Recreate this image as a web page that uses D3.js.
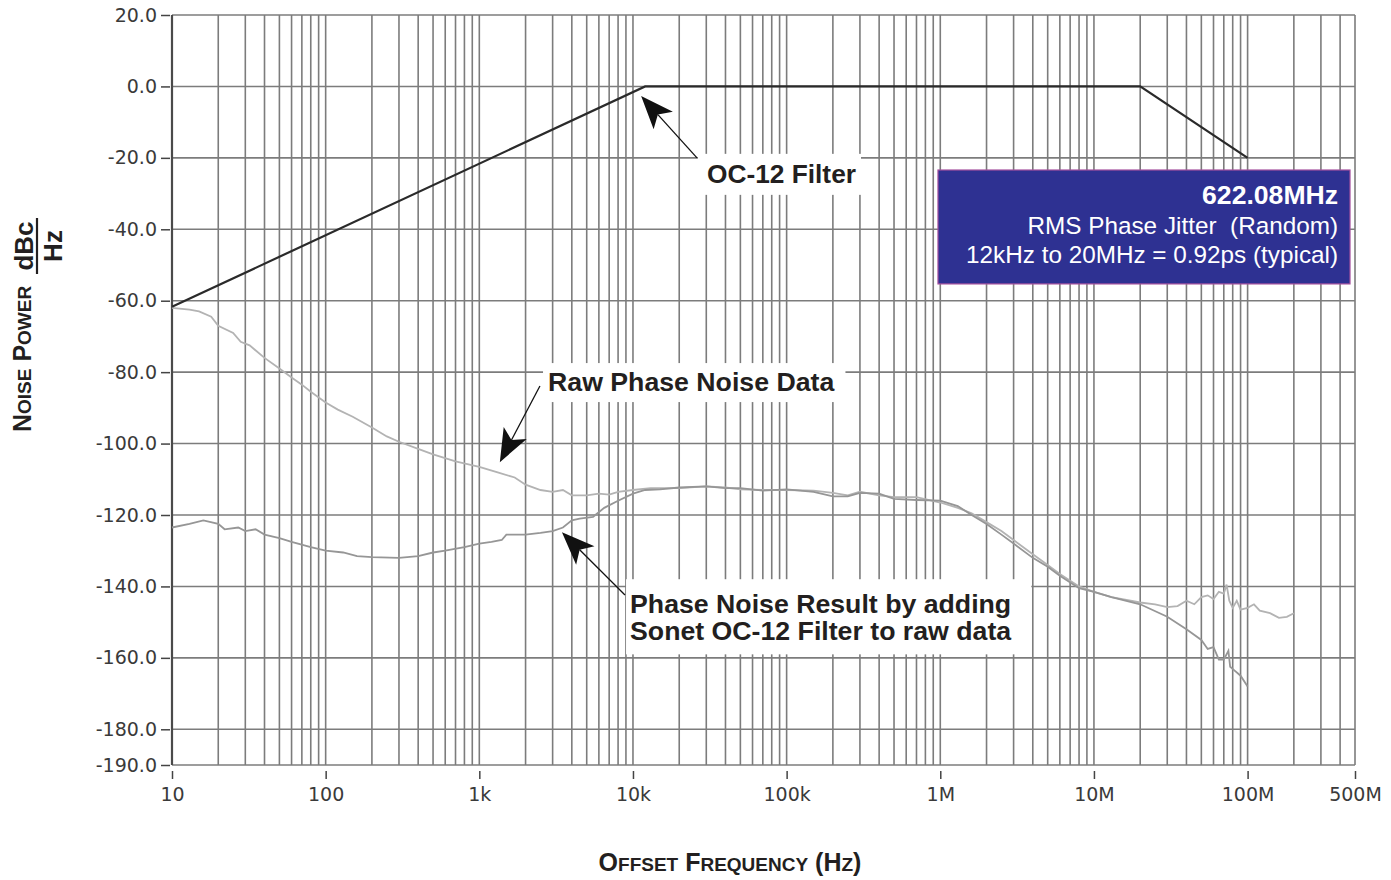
<!DOCTYPE html>
<html lang="en">
    <head>
        <meta charset="utf-8">
        <title>Phase Noise</title>
        <script src="https://d3js.org/d3.v7.min.js"></script>
        <style type="text/css">
            body { margin: 0; background: #fff; }
            svg text { white-space: pre; }
        </style>
    </head>
    <body>
        <script type="text/javascript">

            const w = 1391;
            const h = 880;

            // axis ticks
            const yTicks = [20, 0, -20, -40, -60, -80, -100, -120, -140, -160, -180, -190];
            const xTicks = [10, 100, 1e3, 1e4, 1e5, 1e6, 1e7, 1e8, 5e8];
            const xTickLabels = ["10", "100", "1k", "10k", "100k", "1M", "10M", "100M", "500M"];

            // OC-12 filter mask
            const filterFreq = [10, 12000, 20e6, 100e6];
            const filterDb = [-61.7, 0, 0, -20];

            // raw phase noise data
            const rawFreq = [10, 13, 15, 18, 20, 25, 28, 32, 40, 50, 60, 70, 80, 100, 120, 150, 200, 250, 300, 400,
                500, 700, 1000, 1300, 1700, 2000, 2500, 3000, 3500, 4000, 5000, 6000, 7000, 8000, 10000, 13000,
                20000, 30000, 40000, 50000, 70000, 100000, 150000, 200000, 250000, 300000, 400000, 500000, 700000,
                1e6, 1.3e6, 1.6e6, 2e6, 2.5e6, 3e6, 4e6, 5e6, 6e6, 8e6, 10e6, 13e6, 20e6, 25e6, 30e6, 35e6, 40e6,
                45e6, 50e6, 55e6, 60e6, 65e6, 70e6, 73e6, 76e6, 80e6, 85e6, 90e6, 100e6, 110e6, 120e6, 140e6,
                160e6, 180e6, 200e6];
            const rawDb = [-62, -62.5, -63, -64.5, -67, -69, -71.5, -72.5, -76, -79, -81.5, -83.5, -85.5, -88.5, -90.5, -92.5, -95.5, -98, -99.5, -101.5,
                -103, -105, -106.5, -108, -109.5, -111.5, -113, -113.5, -113, -114.5, -114.5, -114, -114.3, -113.5, -113, -112.5,
                -112.5, -112, -112.3, -112.8, -113, -113, -113.2, -113.8, -114.5, -113.5, -114.5, -115, -115,
                -116.5, -118, -119.5, -122, -124.5, -127, -131, -134, -136.5, -140, -141.5, -143, -144.5, -145, -145.8, -145.5, -144,
                -145, -143, -142.5, -143.5, -141.5, -142, -139.5, -144, -146, -144, -146.5, -146, -145, -146.8, -147.5,
                -148.8, -148.5, -147.5];

            // raw data with the filter applied
            const resFreq = [10, 13, 16, 20, 22, 27, 30, 35, 40, 50, 60, 80, 100, 130, 160, 200, 300, 400, 500, 600,
                800, 1000, 1200, 1400, 1500, 2000, 2500, 3000, 3500, 4000, 4500, 5500, 6500, 8000, 10000, 12000,
                15000, 20000, 30000, 40000, 50000, 70000, 100000, 150000, 200000, 250000, 300000, 400000, 500000,
                700000, 1e6, 1.3e6, 1.6e6, 2e6, 2.5e6, 3e6, 4e6, 5e6, 6e6, 8e6, 10e6, 13e6, 20e6, 30e6, 40e6,
                50e6, 55e6, 60e6, 65e6, 70e6, 75e6, 77e6, 82e6, 90e6, 100e6];
            const resDb = [-123.5, -122.5, -121.5, -122.5, -124, -123.5, -124.5, -124, -125.5, -126.5, -127.5, -129, -130, -130.5, -131.5, -131.8, -132, -131.5, -130.5, -130,
                -129, -128, -127.5, -127, -125.5, -125.5, -125, -124.5, -123.5, -121.5, -121, -120.5, -118, -116, -114, -113,
                -112.8, -112.3, -112, -112.5, -112.5, -113.2, -112.8, -113.5, -114.8, -114.8, -113.8, -114, -115.5,
                -115.8, -116, -117.5, -120, -122.5, -125.5, -128, -132, -134.5, -137, -140.5, -141.5, -143, -145, -148.5, -152,
                -155, -157.5, -157, -160.5, -160.5, -158, -162.5, -163.5, -165, -168];

            const xScale = d3.scaleLog()
                             .domain([10, 5e8])
                             .range([172, 1355]);

            const yScale = d3.scaleLinear()
                             .domain([-190, 20])
                             .range([765, 15]);

            const svg = d3.select("body")
                          .append("svg")
                          .attr("width", w)
                          .attr("height", h)
                          .style("font-family", "'Liberation Sans', Arial, sans-serif");

            // grid
            const vGrid = [];
            [10, 100, 1e3, 1e4, 1e5, 1e6, 1e7].forEach(d => {
                for (let k = 1; k <= 9; k++) vGrid.push(d * k);
            });
            [1e8, 2e8, 3e8, 4e8, 5e8].forEach(d => vGrid.push(d));

            svg.append("g")
               .selectAll("line")
               .data(vGrid)
               .enter()
               .append("line")
               .attr("x1", d => xScale(d))
               .attr("x2", d => xScale(d))
               .attr("y1", yScale(20))
               .attr("y2", yScale(-190))
               .attr("stroke", "#7c7c7c")
               .attr("stroke-width", 1.6);

            svg.append("g")
               .selectAll("line")
               .data(yTicks)
               .enter()
               .append("line")
               .attr("x1", xScale(10))
               .attr("x2", xScale(5e8))
               .attr("y1", d => yScale(d))
               .attr("y2", d => yScale(d))
               .attr("stroke", "#7c7c7c")
               .attr("stroke-width", 1.6);

            svg.append("line")
               .attr("x1", xScale(10)).attr("x2", xScale(10))
               .attr("y1", yScale(20)).attr("y2", yScale(-190))
               .attr("stroke", "#4a4a4a")
               .attr("stroke-width", 2.2);

            // axes
            const leftAxis = d3.axisLeft(yScale)
                               .tickValues(yTicks)
                               .tickFormat(d => d.toFixed(1))
                               .tickSize(9)
                               .tickSizeOuter(0)
                               .tickPadding(4);

            const gy = svg.append("g")
                          .attr("transform", "translate(170,0)")
                          .call(leftAxis);
            gy.select(".domain").remove();
            gy.selectAll("line").attr("stroke", "#444").attr("stroke-width", 1.5);
            gy.selectAll("text")
              .attr("fill", "#3a3a3a")
              .style("font-family", "'DejaVu Sans', sans-serif")
              .style("font-size", "19px");

            const bottomAxis = d3.axisBottom(xScale)
                                 .tickValues(xTicks)
                                 .tickFormat((d, i) => xTickLabels[i])
                                 .tickSize(8)
                                 .tickSizeOuter(0)
                                 .tickPadding(9);

            const gx = svg.append("g")
                          .attr("transform", "translate(0,771)")
                          .call(bottomAxis);
            gx.select(".domain").remove();
            gx.selectAll("line").attr("stroke", "#444").attr("stroke-width", 1.5);
            gx.selectAll("text")
              .attr("fill", "#3a3a3a")
              .style("font-family", "'DejaVu Sans', sans-serif")
              .style("font-size", "19px");

            // series
            const line = d3.line()
                           .x(d => xScale(d[0]))
                           .y(d => yScale(d[1]));

            svg.append("path")
               .datum(rawFreq.map((f, i) => [f, rawDb[i]]))
               .attr("d", line)
               .attr("fill", "none")
               .attr("stroke", "#b3b3b3")
               .attr("stroke-width", 1.8);

            svg.append("path")
               .datum(resFreq.map((f, i) => [f, resDb[i]]))
               .attr("d", line)
               .attr("fill", "none")
               .attr("stroke", "#969696")
               .attr("stroke-width", 1.8);

            svg.append("path")
               .datum(filterFreq.map((f, i) => [f, filterDb[i]]))
               .attr("d", line)
               .attr("fill", "none")
               .attr("stroke", "#2a2a2a")
               .attr("stroke-width", 2.2);

            // annotations: label boxes + arrows (positions in data units)
            function labelBox(lines, fx, dbs, size, pad) {
                const g = svg.append("g");
                const rect = g.append("rect").attr("fill", "#fff");
                const texts = lines.map((s, i) => g.append("text")
                           .attr("x", xScale(fx))
                           .attr("y", yScale(dbs[i]))
                           .attr("fill", "#231f20")
                           .style("font-size", size + "px")
                           .style("font-weight", "bold")
                           .text(s));
                const boxes = texts.map(t => t.node().getBBox());
                const x0 = d3.min(boxes, b => b.x), x1 = d3.max(boxes, b => b.x + b.width);
                const y0 = d3.min(boxes, b => b.y), y1 = d3.max(boxes, b => b.y + b.height);
                rect.attr("x", x0 - pad[0])
                    .attr("y", y0 - pad[1])
                    .attr("width", x1 - x0 + pad[0] + pad[2])
                    .attr("height", y1 - y0 + pad[1] + pad[3]);
                return rect;
            }

            function arrow(tail, tip) {
                const x0 = xScale(tail[0]), y0 = yScale(tail[1]);
                const x1 = xScale(tip[0]), y1 = yScale(tip[1]);
                const len = Math.hypot(x1 - x0, y1 - y0);
                const ux = (x1 - x0) / len, uy = (y1 - y0) / len;
                const px = -uy, py = ux;
                const hl = 33, hw = 13, notch = 25;
                svg.append("line")
                   .attr("x1", x0).attr("y1", y0)
                   .attr("x2", x1 - ux * notch).attr("y2", y1 - uy * notch)
                   .attr("stroke", "#111")
                   .attr("stroke-width", 1.3);
                const pts = [
                    [x1, y1],
                    [x1 - ux * hl + px * hw, y1 - uy * hl + py * hw],
                    [x1 - ux * notch, y1 - uy * notch],
                    [x1 - ux * hl - px * hw, y1 - uy * hl - py * hw]
                ];
                svg.append("polygon")
                   .attr("points", pts.map(p => p.join(",")).join(" "))
                   .attr("fill", "#111");
            }

            labelBox(["OC-12 Filter"], 30300, [-27], 26.3, [9, 5, 5, 6]);
            arrow([26100, -20], [11300, -2.7]);

            labelBox(["Raw Phase Noise Data"], 2800, [-85.3], 26.7, [5, 4, 10, 5]);
            arrow([2480, -83.9], [1360, -105.2]);

            labelBox(["Phase Noise Result by adding", "Sonet OC-12 Filter to raw data"], 9570, [-147.5, -155.1], 26.7, [4, 10, 19, 8]);
            arrow([8870, -142.4], [3450, -124.8]);

            // info box
            const infoLines = ["622.08MHz", "RMS Phase Jitter  (Random)", "12kHz to 20MHz = 0.92ps (typical)"];
            const infoDb = [-32.9, -41.3, -49.4];

            svg.append("rect")
               .attr("x", xScale(0.966e6))
               .attr("y", yScale(-23.4))
               .attr("width", xScale(464e6) - xScale(0.966e6))
               .attr("height", yScale(-55.3) - yScale(-23.4))
               .attr("fill", "#2e3192")
               .attr("stroke", "#a4509e")
               .attr("stroke-width", 1.2);

            svg.append("g")
               .selectAll("text")
               .data(infoLines)
               .enter()
               .append("text")
               .attr("x", xScale(388e6))
               .attr("y", (d, i) => yScale(infoDb[i]))
               .attr("text-anchor", "end")
               .attr("fill", "#fff")
               .style("font-size", (d, i) => i === 0 ? "26.6px" : "24.3px")
               .style("font-weight", (d, i) => i === 0 ? "bold" : "normal")
               .text(d => d);

            // axis titles (small caps built from tspans)
            function smallCaps(textSel, parts, big, small) {
                parts.forEach(p => {
                    textSel.append("tspan")
                           .style("font-size", (p[1] ? big : small) + "px")
                           .text(p[0]);
                });
            }

            const xTitle = svg.append("text")
                              .attr("x", 730)
                              .attr("y", 871)
                              .attr("text-anchor", "middle")
                              .attr("fill", "#231f20")
                              .style("font-weight", "bold");
            smallCaps(xTitle, [["O", 1], ["FFSET", 0], [" F", 1], ["REQUENCY", 0], [" (H", 1], ["Z", 0], [")", 1]], 25, 19);

            const yTitle = svg.append("g")
                              .attr("transform", "translate(31,432) rotate(-90)")
                              .attr("fill", "#231f20")
                              .style("font-weight", "bold");
            const yt = yTitle.append("text").attr("x", 0).attr("y", 0);
            smallCaps(yt, [["N", 1], ["OISE", 0], [" P", 1], ["OWER", 0]], 25, 19);

            yTitle.append("text")
                  .attr("x", 186)
                  .attr("y", 2)
                  .attr("text-anchor", "middle")
                  .style("font-size", "26px")
                  .text("dBc");
            yTitle.append("line")
                  .attr("x1", 158).attr("x2", 214)
                  .attr("y1", 6).attr("y2", 6)
                  .attr("stroke", "#231f20")
                  .attr("stroke-width", 2.2);
            yTitle.append("text")
                  .attr("x", 186)
                  .attr("y", 31)
                  .attr("text-anchor", "middle")
                  .style("font-size", "26px")
                  .text("Hz");

        </script>
    </body>
</html>
